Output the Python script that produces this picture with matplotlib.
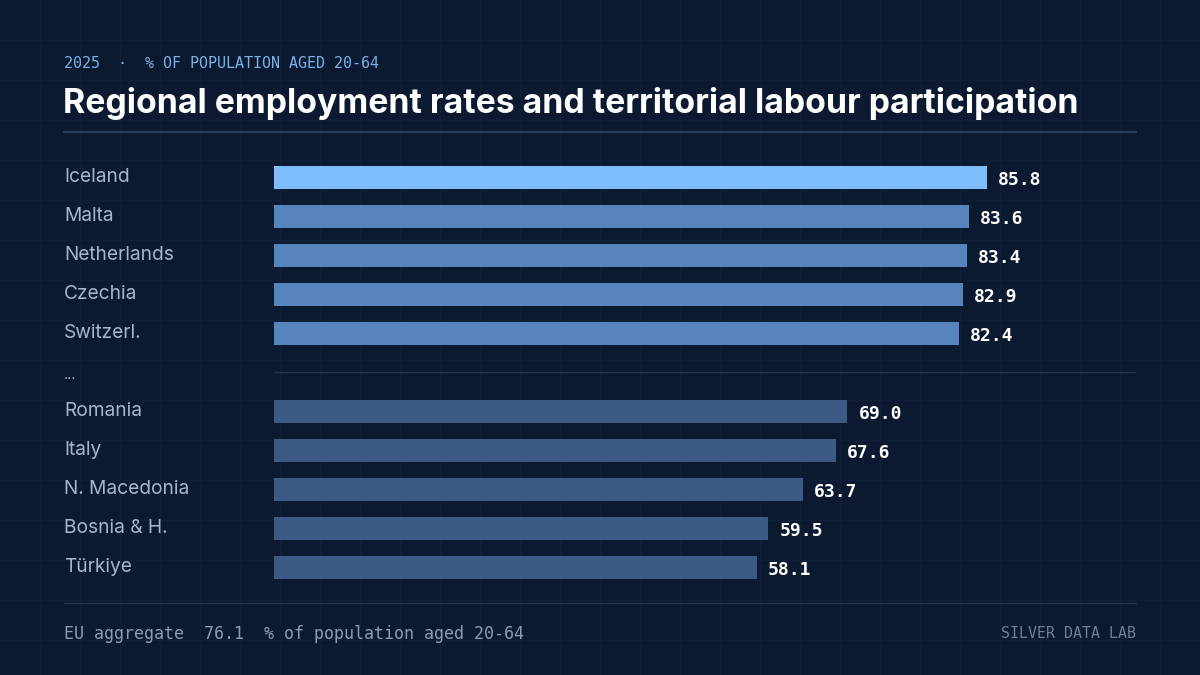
import matplotlib
matplotlib.use("Agg")
import matplotlib.pyplot as plt
from matplotlib.lines import Line2D
from matplotlib.transforms import blended_transform_factory

# ---- data ----
top_countries = ["Iceland", "Malta", "Netherlands", "Czechia", "Switzerl."]
top_values = [85.8, 83.6, 83.4, 82.9, 82.4]
bottom_countries = ["Romania", "Italy", "N. Macedonia", "Bosnia & H.", "Türkiye"]
bottom_values = [69.0, 67.6, 63.7, 59.5, 58.1]
eu_aggregate = 76.1

title = "Regional employment rates and territorial labour participation"
subtitle = "2025  ·  % OF POPULATION AGED 20-64"
footer_left = f"EU aggregate  {eu_aggregate:.1f}  % of population aged 20-64"
footer_right = "SILVER DATA LAB"

# ---- style ----
BG = "#0c1a31"
GRID = "#101f38"
W, H = 1200, 675
SANS = ["Inter", "DejaVu Sans"]
MONO = ["DejaVu Sans Mono"]

fig = plt.figure(figsize=(W / 100, H / 100), dpi=100, facecolor=BG)

# background grid
bg = fig.add_axes([0, 0, 1, 1])
bg.set_xlim(0, W)
bg.set_ylim(H, 0)
bg.axis("off")
bg.set_facecolor(BG)
for gx in range(40, W, 40):
    bg.axvline(gx, color=GRID, lw=1, zorder=0)
for gy in range(40, H, 40):
    bg.axhline(gy, color=GRID, lw=1, zorder=0)

def px(x):
    return x / W

def py(y):
    return 1 - y / H

# bar axes: x from 274 px to 1136 px, full height
x0, x1 = 274, 1136
scale = 713 / 85.8  # px per unit
ax = fig.add_axes([px(x0), 0, px(x1 - x0), 1])
ax.patch.set_alpha(0)
ax.set_xlim(0, (x1 - x0) / scale)
row0, step = 177.7, 39
ax.set_ylim((H - row0) / step, -row0 / step)
ax.axis("off")

top_pos = list(range(len(top_countries)))
sep_pos = len(top_countries)
bot_pos = [sep_pos + 1 + i for i in range(len(bottom_countries))]

top_colors = ["#7dbdfb"] + ["#5684bd"] * (len(top_countries) - 1)
bot_colors = ["#3c5a84"] * len(bottom_countries)
bh = 23 / step

ax.barh(top_pos, top_values, height=bh, color=top_colors, zorder=2)
ax.barh(bot_pos, bottom_values, height=bh, color=bot_colors, zorder=2)

lbl_tr = blended_transform_factory(fig.transFigure, ax.transData)
for pos, name, val in list(zip(top_pos, top_countries, top_values)) + list(zip(bot_pos, bottom_countries, bottom_values)):
    ax.text(px(64), pos - 0.03, name, transform=lbl_tr, ha="left", va="center",
            fontsize=13.8, color="#a7b6cc", family=SANS)
    ax.text(val + 11 / scale, pos + 0.07, f"{val:.1f}", ha="left", va="center",
            fontsize=13, fontweight="bold", color="#ffffff", family=MONO)

# separator row
ax.text(px(64), sep_pos + 0.06, "...", transform=lbl_tr, ha="left", va="center",
        fontsize=10, color="#a7b6cc", family=SANS)
ax.plot([0, 1], [sep_pos - 0.02, sep_pos - 0.02],
        transform=blended_transform_factory(ax.transAxes, ax.transData),
        color="#233553", lw=1)

# header
fig.text(px(64), py(63), subtitle, ha="left", va="center", fontsize=10.8,
         color="#7bb2e6", family=MONO)
fig.text(px(63), py(103), title, ha="left", va="center", fontsize=24.3,
         fontweight="bold", color="#ffffff", family=SANS)
fig.add_artist(Line2D([px(64), px(1136)], [py(132), py(132)], color="#2c3f62", lw=1.5))

# footer
fig.add_artist(Line2D([px(64), px(1136)], [py(603), py(603)], color="#233553", lw=1))
fig.text(px(64), py(634), footer_left, ha="left", va="center", fontsize=12,
         color="#8d9cb4", family=MONO)
fig.text(px(1136), py(634), footer_right, ha="right", va="center", fontsize=10.7,
         color="#6d7f9c", family=MONO)

fig.savefig("out.png", dpi=100, facecolor=BG)
